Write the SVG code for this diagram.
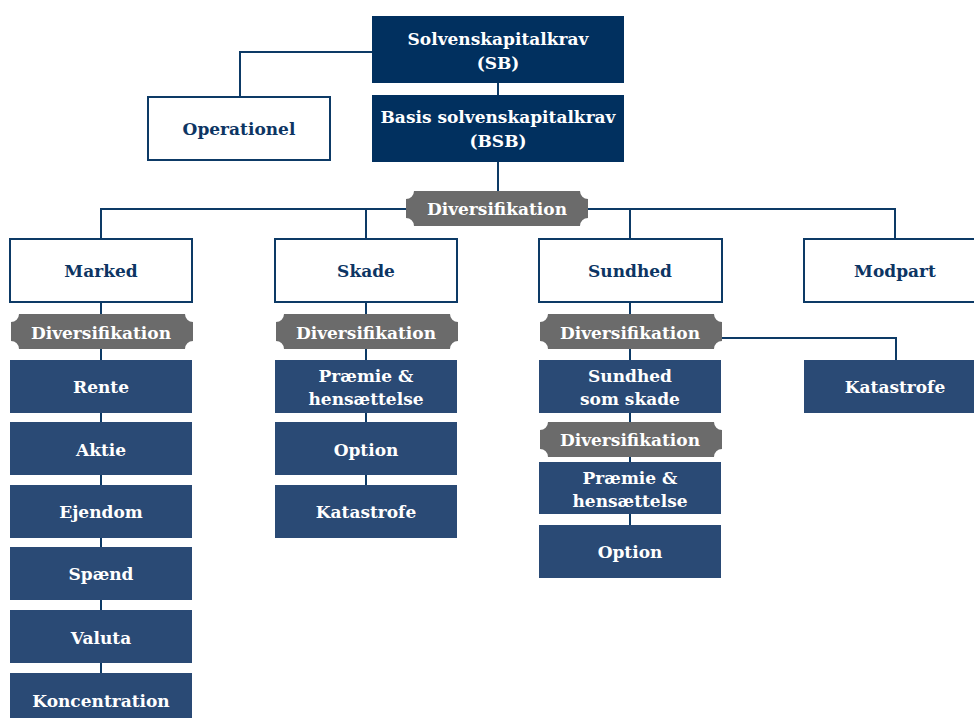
<svg xmlns="http://www.w3.org/2000/svg" width="974" height="718" viewBox="0 0 974 718">
<style>
.dark{fill:#01305f}
.mid{fill:#2a4a75}
.outl{fill:#ffffff;stroke:#0d3a66;stroke-width:2}
.badge{fill:#6b6b6b}
.ln{fill:none;stroke:#0d3a66;stroke-width:2}
text{font-family:"DejaVu Serif","Liberation Serif",serif;font-weight:bold;font-size:17px;text-anchor:middle}
.w{fill:#ffffff}
.n{fill:#0d3563}
</style>
<rect width="974" height="718" fill="#ffffff"/>
<g id="connectors">
<path class="ln" d="M372 52 H240 V96"/>
<path class="ln" d="M498 83 V95"/>
<path class="ln" d="M498 162 V192"/>
<path class="ln" d="M101 238 V209 H895 V238"/>
<path class="ln" d="M366 209 V238"/>
<path class="ln" d="M630 209 V238"/>
<path class="ln" d="M101 302 V673"/>
<path class="ln" d="M366 302 V485"/>
<path class="ln" d="M630 302 V525"/>
<path class="ln" d="M722 338 H896 V360"/>
</g>
<g id="sb"><rect class="dark" x="372" y="16" width="252" height="67"/><text class="w" x="498" y="45">Solvenskapitalkrav</text><text class="w" x="498" y="69">(SB)</text></g>
<g id="bsb"><rect class="dark" x="372" y="95" width="252" height="67"/><text class="w" x="498" y="123">Basis solvenskapitalkrav</text><text class="w" x="498" y="147">(BSB)</text></g>
<g id="operationel"><rect class="outl" x="148" y="97" width="182" height="63"/><text class="n" x="239" y="135">Operationel</text></g>
<g id="div-top"><path class="badge" d="M414 191 H580 A8 8 0 0 0 588 199 V218 A8 8 0 0 0 580 226 H414 A8 8 0 0 0 406 218 V199 A8 8 0 0 0 414 191 Z"/><text class="w" x="497" y="215">Diversifikation</text></g>
<g id="marked"><rect class="outl" x="10" y="239" width="182" height="63"/><text class="n" x="101" y="277">Marked</text></g>
<g id="skade"><rect class="outl" x="275" y="239" width="182" height="63"/><text class="n" x="366" y="277">Skade</text></g>
<g id="sundhed"><rect class="outl" x="539" y="239" width="183" height="63"/><text class="n" x="630" y="277">Sundhed</text></g>
<g id="modpart"><rect class="outl" x="804" y="239" width="183" height="63"/><text class="n" x="895" y="277">Modpart</text></g>
<g id="div-marked"><path class="badge" d="M19 314 H185 A8 8 0 0 0 193 322 V341 A8 8 0 0 0 185 349 H19 A8 8 0 0 0 11 341 V322 A8 8 0 0 0 19 314 Z"/><text class="w" x="101" y="339">Diversifikation</text></g>
<g id="div-skade"><path class="badge" d="M284 314 H450 A8 8 0 0 0 458 322 V341 A8 8 0 0 0 450 349 H284 A8 8 0 0 0 276 341 V322 A8 8 0 0 0 284 314 Z"/><text class="w" x="366" y="339">Diversifikation</text></g>
<g id="div-sundhed"><path class="badge" d="M548 314 H714 A8 8 0 0 0 722 322 V341 A8 8 0 0 0 714 349 H548 A8 8 0 0 0 540 341 V322 A8 8 0 0 0 548 314 Z"/><text class="w" x="630" y="339">Diversifikation</text></g>
<g id="rente"><rect class="mid" x="10" y="360" width="182" height="53"/><text class="w" x="101" y="393">Rente</text></g>
<g id="aktie"><rect class="mid" x="10" y="422" width="182" height="53"/><text class="w" x="101" y="456">Aktie</text></g>
<g id="ejendom"><rect class="mid" x="10" y="485" width="182" height="53"/><text class="w" x="101" y="518">Ejendom</text></g>
<g id="spaend"><rect class="mid" x="10" y="547" width="182" height="53"/><text class="w" x="101" y="580">Spænd</text></g>
<g id="valuta"><rect class="mid" x="10" y="610" width="182" height="53"/><text class="w" x="101" y="644">Valuta</text></g>
<g id="koncentration"><rect class="mid" x="10" y="673" width="182" height="53"/><text class="w" x="101" y="707">Koncentration</text></g>
<g id="skade-praemie"><rect class="mid" x="275" y="360" width="182" height="53"/><text class="w" x="366" y="382">Præmie &amp;</text><text class="w" x="366" y="405">hensættelse</text></g>
<g id="skade-option"><rect class="mid" x="275" y="422" width="182" height="53"/><text class="w" x="366" y="456">Option</text></g>
<g id="skade-katastrofe"><rect class="mid" x="275" y="485" width="182" height="53"/><text class="w" x="366" y="518">Katastrofe</text></g>
<g id="sundhed-skade"><rect class="mid" x="539" y="360" width="182" height="53"/><text class="w" x="630" y="382">Sundhed</text><text class="w" x="630" y="405">som skade</text></g>
<g id="div-sundhed2"><path class="badge" d="M548 422 H714 A8 8 0 0 0 722 430 V449 A8 8 0 0 0 714 457 H548 A8 8 0 0 0 540 449 V430 A8 8 0 0 0 548 422 Z"/><text class="w" x="630" y="446">Diversifikation</text></g>
<g id="sundhed-praemie"><rect class="mid" x="539" y="462" width="182" height="52"/><text class="w" x="630" y="484">Præmie &amp;</text><text class="w" x="630" y="507">hensættelse</text></g>
<g id="sundhed-option"><rect class="mid" x="539" y="525" width="182" height="53"/><text class="w" x="630" y="558">Option</text></g>
<g id="katastrofe"><rect class="mid" x="804" y="360" width="183" height="53"/><text class="w" x="895" y="393">Katastrofe</text></g>
</svg>
